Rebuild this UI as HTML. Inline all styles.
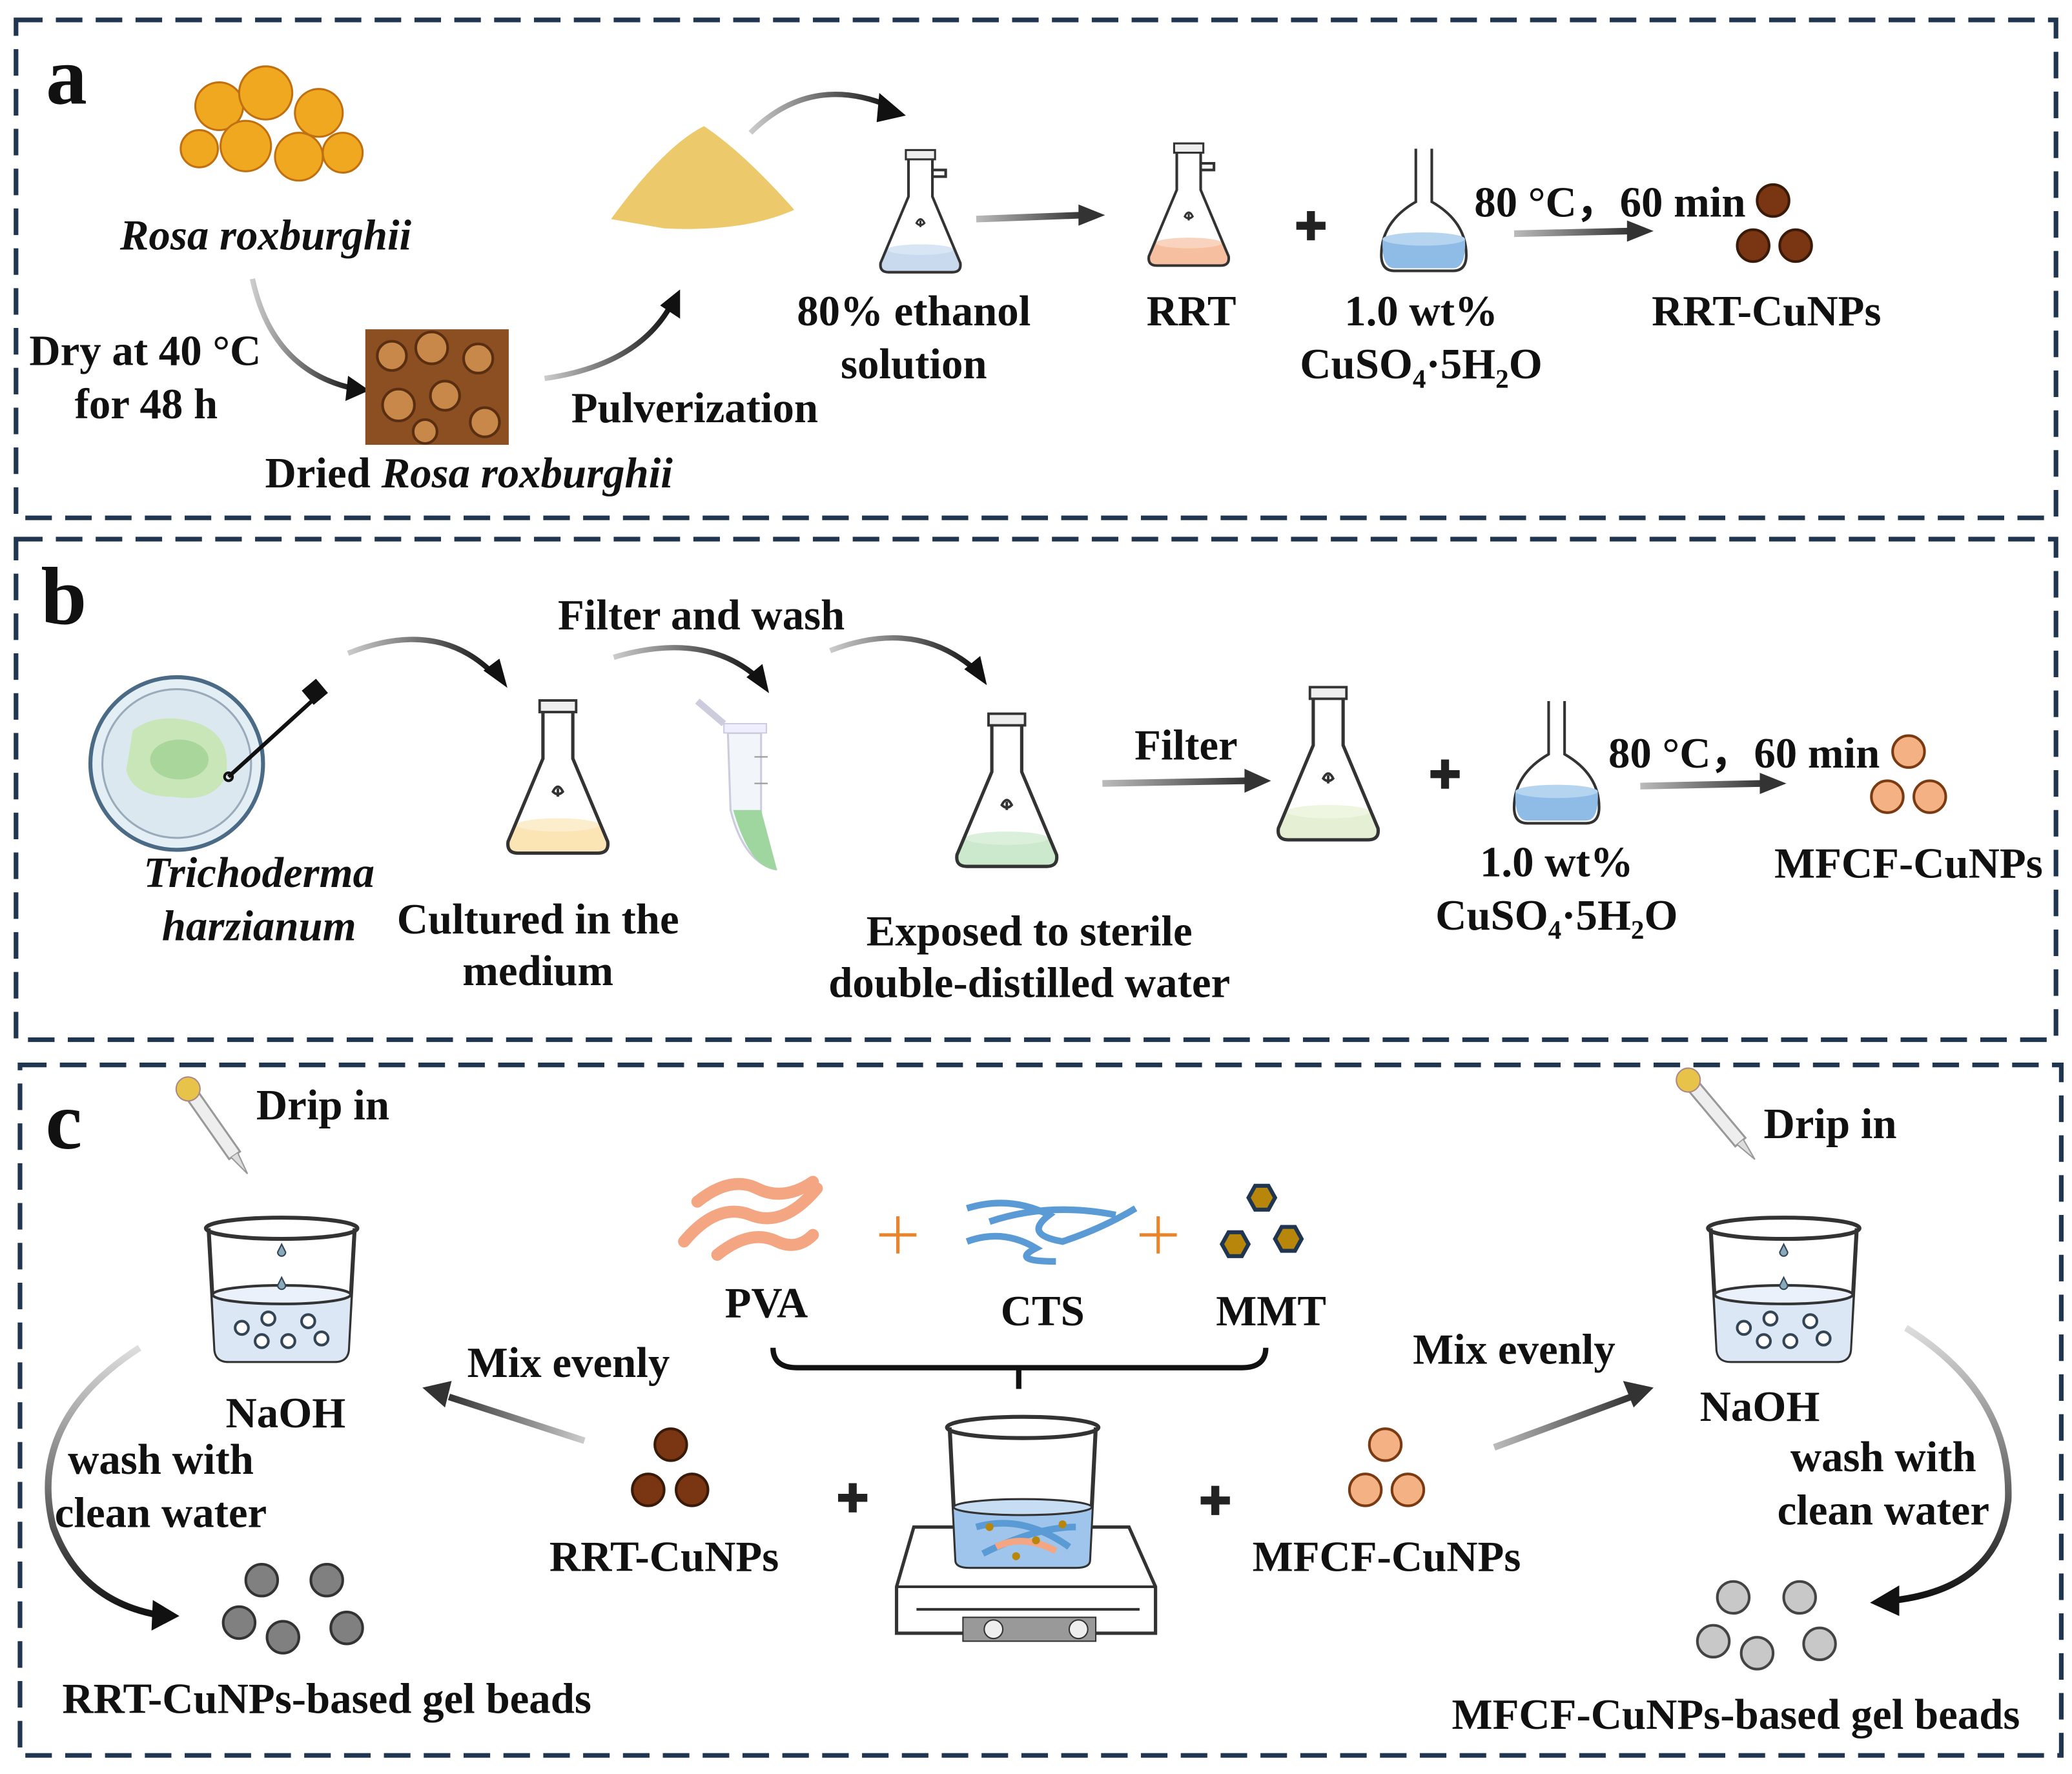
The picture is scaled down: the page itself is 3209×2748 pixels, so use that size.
<!DOCTYPE html>
<html><head><meta charset="utf-8"><style>
html,body{margin:0;padding:0;background:#fff}
svg{display:block}
text{font-family:"Liberation Serif",serif;font-weight:bold;fill:#111;font-size:32.5px;text-anchor:middle}
.it{font-style:italic}
.l{text-anchor:start}
</style></head><body>
<svg width="3209" height="2748" viewBox="0 0 1560 1336" xmlns="http://www.w3.org/2000/svg">
<defs>
<linearGradient id="gk" x1="0" y1="0" x2="1" y2="0"><stop offset="0" stop-color="#ccc"/><stop offset="1" stop-color="#111"/></linearGradient>
<linearGradient id="gs" x1="0" y1="0" x2="1" y2="0"><stop offset="0" stop-color="#bbb"/><stop offset="1" stop-color="#333"/></linearGradient>
<linearGradient id="gs2" x1="1" y1="0" x2="0" y2="0"><stop offset="0" stop-color="#ccc"/><stop offset="1" stop-color="#333"/></linearGradient>
<linearGradient id="gv" x1="0" y1="0" x2="0" y2="1"><stop offset="0" stop-color="#ddd"/><stop offset="1" stop-color="#111"/></linearGradient>
<g id="flask"><path d="M-9,-45 L-9,-15 L-30,35 Q-31,42 -24,42 L24,42 Q31,42 30,35 L9,-15 L9,-45 Z" fill="none" stroke="#333" stroke-width="2"/><rect x="-11" y="-50" width="22" height="7" fill="#eee" stroke="#333" stroke-width="1.5"/><path d="M-3,5 q3,-6 6,0 q-3,3 -6,0z M0,3 v5" stroke="#333" fill="none" stroke-width="1.5"/></g>
<g id="beaker"><path d="M-55,-50 L-50,40 Q-50,50 -40,50 L40,50 Q50,50 50,40 L55,-50" fill="none" stroke="#333" stroke-width="3"/><ellipse cx="0" cy="-50" rx="57" ry="8" fill="none" stroke="#333" stroke-width="3"/><path d="M-52,0 L-50,40 Q-50,50 -40,50 L40,50 Q50,50 50,40 L52,0 Z" fill="#dbe7f5"/><ellipse cx="0" cy="0" rx="52" ry="7" fill="#eaf1fa" stroke="#333" stroke-width="2"/><g fill="#fff" stroke="#345" stroke-width="2"><circle cx="-30" cy="25" r="5"/><circle cx="-10" cy="18" r="5"/><circle cx="20" cy="20" r="5"/><circle cx="-15" cy="35" r="5"/><circle cx="5" cy="35" r="5"/><circle cx="30" cy="33" r="5"/></g><path d="M0,-38 l-3,6 a3,3 0 1,0 6,0z M0,-13 l-3,6 a3,3 0 1,0 6,0z" fill="#8ab" stroke="#345"/></g>
<g id="dropper"><rect x="-5" y="0" width="10" height="55" fill="#eee" stroke="#999" stroke-width="1.5"/><path d="M-3,55 L0,72 L3,55" fill="#ddd" stroke="#999"/><circle cx="0" cy="-6" r="9" fill="#e8c34a" stroke="#a88"/></g>
<g id="vol"><path d="M-6,-50 L-6,-10 Q-32,5 -32,30 Q-32,42 -22,42 L22,42 Q32,42 32,30 Q32,5 6,-10 L6,-50" fill="none" stroke="#333" stroke-width="2"/><path d="M-31,18 Q-32,40 -22,40 L22,40 Q32,40 31,18 Z" fill="#8fbce6"/><ellipse cx="0" cy="18" rx="31" ry="5" fill="#b5d4f0"/></g>
<path id="plus" d="M-11,0 H11 M0,-11 V11" stroke="#222" stroke-width="6"/>
</defs>
<g fill="none" stroke="#1f3550" stroke-width="3.5" stroke-dasharray="20 10">
<rect x="12" y="15" width="1536" height="375"/>
<rect x="12" y="406" width="1536" height="377"/>
<rect x="15" y="802" width="1537" height="520"/>
</g>
<!-- panel a -->
<text x="50" y="78" style="font-size:62px">a</text>
<g fill="#f0a820" stroke="#c07010" stroke-width="1.5"><circle cx="165" cy="80" r="18"/><circle cx="200" cy="70" r="20"/><circle cx="240" cy="85" r="18"/><circle cx="185" cy="110" r="19"/><circle cx="225" cy="118" r="18"/><circle cx="258" cy="115" r="15"/><circle cx="150" cy="112" r="14"/></g>
<text x="200" y="188" class="it">Rosa roxburghii</text>
<path d="M190,210 Q205,280 268,293" fill="none" stroke="url(#gk)" stroke-width="4"/><path d="M262,283 L278,294 L260,302 Z" fill="#111"/>
<text x="22" y="275" class="l">Dry at 40 °C</text><text x="110" y="315">for 48 h</text>
<rect x="275" y="248" width="108" height="87" fill="#8b4f22"/>
<g fill="#c8884a" stroke="#5a2e10" stroke-width="2"><circle cx="295" cy="268" r="11"/><circle cx="325" cy="262" r="12"/><circle cx="360" cy="270" r="11"/><circle cx="300" cy="305" r="12"/><circle cx="335" cy="298" r="11"/><circle cx="365" cy="318" r="11"/><circle cx="320" cy="325" r="9"/></g>
<text x="353" y="367">Dried <tspan class="it">Rosa roxburghii</tspan></text>
<path d="M410,285 Q480,275 505,230" fill="none" stroke="url(#gk)" stroke-width="4"/><path d="M497,230 L512,218 L512,240 Z" fill="#111"/>
<text x="523" y="318">Pulverization</text>
<path d="M460,165 Q500,110 530,95 Q560,115 598,158 Q560,175 500,172 Z" fill="#ecc96a"/>
<path d="M565,100 Q610,55 670,80" fill="none" stroke="url(#gk)" stroke-width="4"/><path d="M662,70 L682,87 L660,92 Z" fill="#111"/>
<g transform="translate(693,163)"><path d="M-25,25 L-30,35 Q-31,42 -24,42 L24,42 Q31,42 30,35 L25,25Z" fill="#c9d9ee"/><ellipse cx="0" cy="25" rx="25" ry="4" fill="#d8e5f4"/><use href="#flask"/><path d="M9,-35 h10 v5 h-10" fill="none" stroke="#333" stroke-width="2"/></g>
<text x="688" y="245">80% ethanol</text><text x="688" y="285">solution</text>
<path d="M735,165 L815,162" stroke="url(#gs)" stroke-width="5"/><path d="M812,154 L832,162 L812,170Z" fill="#333"/>
<g transform="translate(895,158)"><path d="M-25,25 L-30,35 Q-31,42 -24,42 L24,42 Q31,42 30,35 L25,25Z" fill="#f6bfa0"/><ellipse cx="0" cy="25" rx="25" ry="4" fill="#f9d3bd"/><use href="#flask"/><path d="M9,-35 h10 v5 h-10" fill="none" stroke="#333" stroke-width="2"/></g>
<text x="897" y="245">RRT</text>
<use href="#plus" x="987" y="170"/>
<g transform="translate(1072,162)"><use href="#vol"/></g>
<text x="1070" y="245">1.0 wt%</text><text x="1070" y="285">CuSO<tspan dy="7" style="font-size:20px">4</tspan><tspan dy="-7">·5H</tspan><tspan dy="7" style="font-size:20px">2</tspan><tspan dy="-7">O</tspan></text>
<text x="1110" y="163" class="l">80 °C，60 min</text>
<path d="M1140,176 L1228,174" stroke="url(#gs)" stroke-width="5"/><path d="M1225,166 L1245,174 L1225,182Z" fill="#333"/>
<g fill="#7a3512" stroke="#3a1a08" stroke-width="2"><circle cx="1335" cy="151" r="12"/><circle cx="1320" cy="185" r="12"/><circle cx="1352" cy="185" r="12"/></g>
<text x="1330" y="245">RRT-CuNPs</text>
<!-- panel b -->
<text x="48" y="470" style="font-size:62px">b</text>
<circle cx="133" cy="575" r="65" fill="#e4eef5" stroke="#4a6a85" stroke-width="3"/><circle cx="133" cy="575" r="56" fill="#dbe8ef" stroke="#9ab" stroke-width="1.5"/>
<path d="M100,550 Q120,535 150,545 Q175,555 170,585 Q160,605 130,600 Q100,600 95,580 Z" fill="#c8e6b8"/><ellipse cx="135" cy="572" rx="22" ry="15" fill="#a9d69a"/>
<path d="M172,585 L238,525" stroke="#111" stroke-width="3"/><rect x="230" y="514" width="14" height="14" fill="#111" transform="rotate(-40 237 521)"/><circle cx="172" cy="585" r="3" fill="none" stroke="#111" stroke-width="2"/>
<text x="195" y="668" class="it">Trichoderma</text><text x="195" y="708" class="it">harzianum</text>
<path d="M262,492 Q330,465 372,508" fill="none" stroke="url(#gk)" stroke-width="4"/><path d="M364,505 L382,518 L376,496Z" fill="#111"/>
<g transform="translate(420,590) scale(1.25)"><path d="M-25,25 L-30,35 Q-31,42 -24,42 L24,42 Q31,42 30,35 L25,25Z" fill="#fbe5b5"/><ellipse cx="0" cy="25" rx="25" ry="4" fill="#fcedcc"/><use href="#flask"/></g>
<text x="405" y="703">Cultured in the</text><text x="405" y="742">medium</text>
<text x="528" y="474">Filter and wash</text>
<path d="M462,495 Q530,475 570,510" fill="none" stroke="url(#gk)" stroke-width="4"/><path d="M562,510 L579,522 L574,500Z" fill="#111"/>
<path d="M548,552 L573,552 L573,610 Q572,650 585,655 Q560,650 550,610 Z" fill="#f2f6fa" stroke="#ccd" stroke-width="1.5"/><path d="M552,610 Q565,655 585,655 L573,610Z" fill="#9fd6a0"/><path d="M545,545 h32 v7 h-32z" fill="#eef" stroke="#ccd"/><path d="M545,545 L525,528" stroke="#ccd" stroke-width="5"/><path d="M568,570 h10 M568,590 h10" stroke="#999"/>
<path d="M625,490 Q690,465 735,505" fill="none" stroke="url(#gk)" stroke-width="4"/><path d="M726,504 L743,516 L738,494Z" fill="#111"/>
<g transform="translate(758,600) scale(1.25)"><path d="M-25,25 L-30,35 Q-31,42 -24,42 L24,42 Q31,42 30,35 L25,25Z" fill="#cde9cd"/><ellipse cx="0" cy="25" rx="25" ry="4" fill="#dbf0db"/><use href="#flask"/></g>
<text x="775" y="712">Exposed to sterile</text><text x="775" y="751">double-distilled water</text>
<text x="893" y="572">Filter</text>
<path d="M830,590 L940,588" stroke="url(#gs)" stroke-width="5"/><path d="M937,579 L957,588 L937,597Z" fill="#333"/>
<g transform="translate(1000,580) scale(1.25)"><path d="M-25,25 L-30,35 Q-31,42 -24,42 L24,42 Q31,42 30,35 L25,25Z" fill="#e4efd3"/><ellipse cx="0" cy="25" rx="25" ry="4" fill="#eef6e2"/><use href="#flask"/></g>
<use href="#plus" x="1088" y="583"/>
<g transform="translate(1172,578)"><use href="#vol"/></g>
<text x="1172" y="660">1.0 wt%</text><text x="1172" y="700">CuSO<tspan dy="7" style="font-size:20px">4</tspan><tspan dy="-7">·5H</tspan><tspan dy="7" style="font-size:20px">2</tspan><tspan dy="-7">O</tspan></text>
<text x="1211" y="578" class="l">80 °C，60 min</text>
<path d="M1235,592 L1328,590" stroke="url(#gs)" stroke-width="5"/><path d="M1325,582 L1345,590 L1325,598Z" fill="#333"/>
<g fill="#f4b183" stroke="#7a3a12" stroke-width="2"><circle cx="1437" cy="566" r="12"/><circle cx="1421" cy="600" r="12"/><circle cx="1453" cy="600" r="12"/></g>
<text x="1437" y="661">MFCF-CuNPs</text>
<!-- panel c -->
<text x="48" y="865" style="font-size:62px">c</text>
<g transform="translate(145,825) rotate(-35)"><use href="#dropper"/></g>
<text x="243" y="843">Drip in</text>
<g transform="translate(212,975)"><use href="#beaker"/></g>
<text x="215" y="1075">NaOH</text>
<text x="121" y="1110">wash with</text><text x="121" y="1150">clean water</text>
<path d="M105,1015 Q20,1070 40,1150 Q60,1205 118,1216" fill="none" stroke="url(#gv)" stroke-width="5"/><path d="M115,1205 L135,1217 L114,1228Z" fill="#111"/>
<g fill="#808080" stroke="#333" stroke-width="2"><circle cx="197" cy="1190" r="12"/><circle cx="246" cy="1190" r="12"/><circle cx="180" cy="1222" r="12"/><circle cx="213" cy="1233" r="12"/><circle cx="261" cy="1226" r="12"/></g>
<text x="246" y="1290">RRT-CuNPs-based gel beads</text>
<g fill="none" stroke="#f4a582" stroke-width="9" stroke-linecap="round"><path d="M515,935 Q540,905 565,915 Q590,925 615,895"/><path d="M525,905 Q550,885 570,895 Q590,905 612,890"/><path d="M540,945 Q565,925 585,935 Q600,942 612,930"/></g>
<text x="577" y="992">PVA</text>
<g stroke="#e8842a" stroke-width="2.5" fill="none"><path d="M676,916 v28 M662,930 h28"/><path d="M872,916 v28 M858,930 h28"/></g>
<g fill="none" stroke="#5b9bd5" stroke-width="5"><path d="M728,910 Q760,900 790,915 Q770,930 800,935 Q830,925 855,910"/><path d="M728,935 Q755,925 780,940 Q760,950 795,950"/><path d="M745,920 Q790,905 840,915"/></g>
<text x="785" y="998">CTS</text>
<g fill="#b8860b" stroke="#1f3550" stroke-width="3"><polygon points="940,902 945,893 955,893 960,902 955,911 945,911"/><polygon points="920,937 925,928 935,928 940,937 935,946 925,946"/><polygon points="960,933 965,924 975,924 980,933 975,942 965,942"/></g>
<text x="957" y="998">MMT</text>
<path d="M582,1015 Q582,1030 600,1030 L935,1030 Q953,1030 953,1015 M767,1030 V1046" fill="none" stroke="#111" stroke-width="4"/>
<text x="428" y="1037">Mix evenly</text>
<path d="M440,1085 L338,1052" stroke="url(#gs2)" stroke-width="5"/><path d="M340,1040 L318,1045 L335,1060Z" fill="#333"/>
<g fill="#7a3512" stroke="#3a1a08" stroke-width="2"><circle cx="505" cy="1088" r="12"/><circle cx="488" cy="1122" r="12"/><circle cx="521" cy="1122" r="12"/></g>
<text x="500" y="1183">RRT-CuNPs</text>
<use href="#plus" x="642" y="1128"/>
<path d="M688,1150 L850,1150 L870,1195 L870,1230 L675,1230 L675,1195 Z" fill="#fff" stroke="#333" stroke-width="2.5"/><path d="M675,1195 L870,1195 M690,1212 L858,1212" stroke="#333" stroke-width="2"/><rect x="725" y="1218" width="100" height="18" fill="#999" stroke="#333"/><circle cx="748" cy="1227" r="7" fill="#eee" stroke="#333"/><circle cx="812" cy="1227" r="7" fill="#eee" stroke="#333"/>
<g transform="translate(770,1120)"><path d="M-55,-45 L-50,55 Q-50,60 -40,60 L40,60 Q50,60 50,55 L55,-45" fill="none" stroke="#333" stroke-width="3"/><path d="M-52,15 L-50,55 Q-50,60 -40,60 L40,60 Q50,60 50,55 L52,15Z" fill="#9fc5ec"/><ellipse cx="0" cy="15" rx="52" ry="6" fill="#c7ddf4" stroke="#333" stroke-width="1.5"/><ellipse cx="0" cy="-45" rx="57" ry="8" fill="none" stroke="#333" stroke-width="3"/><path d="M-35,30 Q0,20 35,45 M-30,50 Q10,30 40,30" stroke="#5b9bd5" stroke-width="5" fill="none"/><path d="M-20,45 Q0,35 25,48" stroke="#f4a582" stroke-width="5" fill="none"/><g fill="#b8860b"><circle cx="-25" cy="30" r="3"/><circle cx="10" cy="40" r="3"/><circle cx="30" cy="28" r="3"/><circle cx="-5" cy="52" r="3"/></g></g>
<use href="#plus" x="915" y="1130"/>
<g fill="#f4b183" stroke="#7a3a12" stroke-width="2"><circle cx="1043" cy="1088" r="12"/><circle cx="1028" cy="1122" r="12"/><circle cx="1060" cy="1122" r="12"/></g>
<text x="1044" y="1183">MFCF-CuNPs</text>
<text x="1140" y="1027">Mix evenly</text>
<path d="M1125,1090 L1228,1052" stroke="url(#gs)" stroke-width="5"/><path d="M1222,1040 L1245,1045 L1230,1060Z" fill="#333"/>
<g transform="translate(1275,818) rotate(-40)"><use href="#dropper"/></g>
<text x="1378" y="857">Drip in</text>
<g transform="translate(1343,975)"><use href="#beaker"/></g>
<text x="1325" y="1070">NaOH</text>
<text x="1418" y="1108">wash with</text><text x="1418" y="1148">clean water</text>
<path d="M1435,1000 Q1515,1050 1512,1130 Q1505,1195 1428,1205" fill="none" stroke="url(#gv)" stroke-width="5"/><path d="M1430,1194 L1408,1207 L1430,1217Z" fill="#111"/>
<g fill="#c8c8c8" stroke="#444" stroke-width="2"><circle cx="1305" cy="1203" r="12"/><circle cx="1355" cy="1203" r="12"/><circle cx="1290" cy="1236" r="12"/><circle cx="1323" cy="1245" r="12"/><circle cx="1370" cy="1238" r="12"/></g>
<text x="1307" y="1302">MFCF-CuNPs-based gel beads</text>
</svg>
</body></html>
